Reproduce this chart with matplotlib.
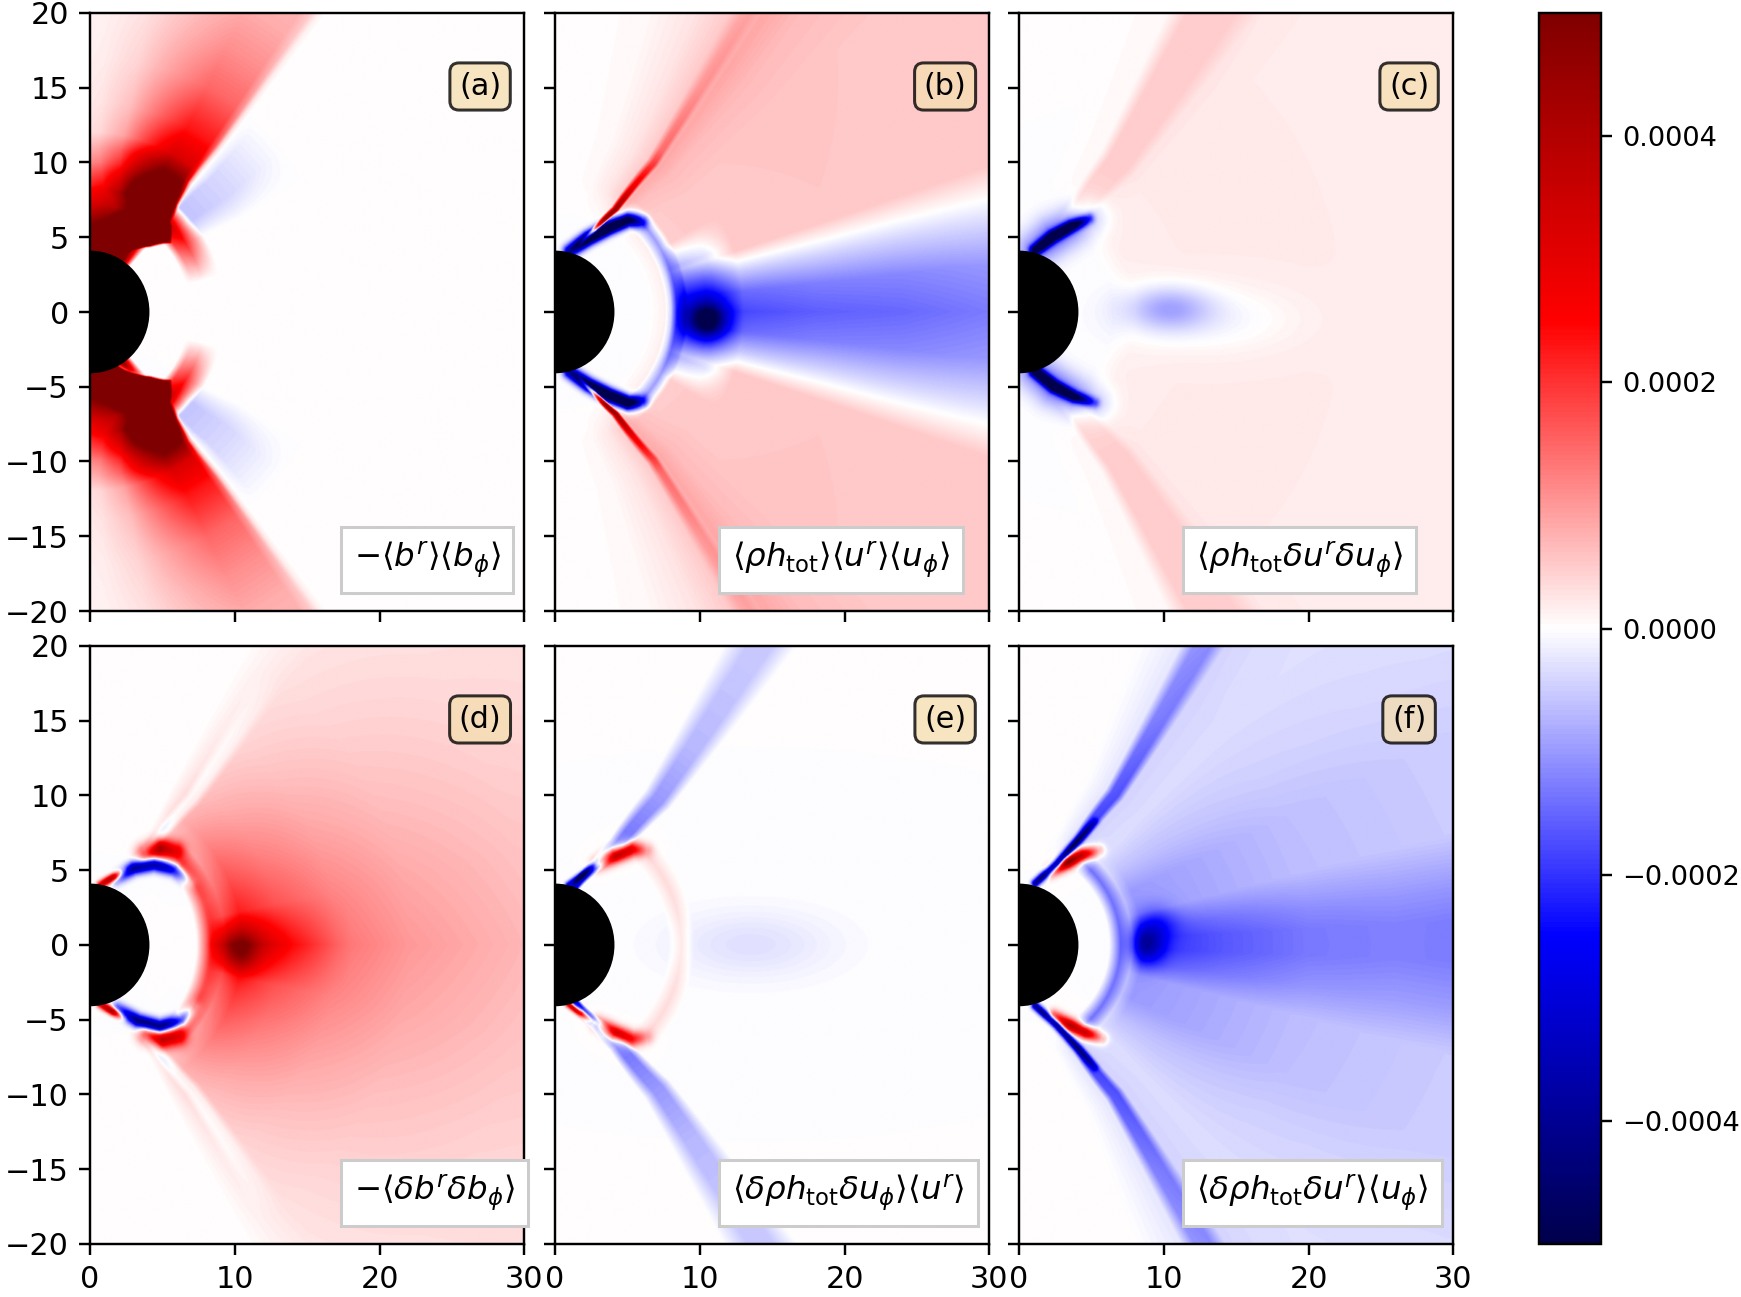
import numpy as np
import matplotlib
matplotlib.use("Agg")
import matplotlib.pyplot as plt
from matplotlib.patches import Circle

# values are in units of 1e-4
SCALE = 1e-4
VLIM = 5e-4
HOLE_R = 4.0

PANEL_TAGS = ["(a)", "(b)", "(c)", "(d)", "(e)", "(f)"]
PANEL_NAMES = [
    r"$-\langle b^r\rangle\langle b_\phi\rangle$",
    r"$\langle\rho h_{\rm tot}\rangle\langle u^r\rangle\langle u_\phi\rangle$",
    r"$\langle\rho h_{\rm tot}\delta u^r\delta u_\phi\rangle$",
    r"$-\langle\delta b^r\delta b_\phi\rangle$",
    r"$\langle\delta\rho h_{\rm tot}\delta u_\phi\rangle\langle u^r\rangle$",
    r"$\langle\delta\rho h_{\rm tot}\delta u^r\rangle\langle u_\phi\rangle$",
]
X_TICKS = [0, 10, 20, 30]
Y_TICKS = [-20, -15, -10, -5, 0, 5, 10, 15, 20]
CBAR_TICKS = [-4e-4, -2e-4, 0, 2e-4, 4e-4]

# funnel wall: polar angle (deg from the pole) against radius
WALL_R = [4, 6, 8, 12, 18, 25, 40]
WALL_DEG = [20, 29, 34, 37, 36.5, 36, 35.5]

# ---- panel (a)
A_EDGE_R = [4, 4.85, 5.3, 6.0, 7.2, 7.7, 8.2, 9.5, 11, 14, 20, 40]
A_EDGE_DEG = [25, 32, 36, 42, 48.5, 45, 40.5, 38.5, 37, 37.5, 37, 36.5]
A_SHEATH_R = [4, 7, 9, 10.5, 12, 14, 17, 20, 23, 30, 40]
A_SHEATH_AMP = [10, 10, 7.5, 5.0, 3.2, 2.3, 1.5, 1.1, 0.8, 0.55, 0.35]
A_SHEATH_V = [-45, -40, -34, -26, -18, -9, -3, -1, 0.5, 1.5, 2.5]
A_SHEATH_W = [0.05, 0.08, 0.12, 0.28, 0.62, 1, 1, 1, 0.7, 0.2, 0]
A_CAP_R = [4, 5.5, 7, 8.5, 10, 12]
A_CAP_AMP = [5, 4.5, 3, 1.5, 0.6, 0]
A_CAP_LAT = [-90, -56, -48, 48, 56, 90]
A_CAP_W = [1, 1, 0, 0, 1, 1]
A_RING_R = [6.8, 7.3, 8.0, 8.7, 9.3]
A_RING_AMP = [0, 3, 4, 2, 0]
A_RING_LAT = [-56, -50, -35, -15, 15, 35, 50, 56]
A_RING_W = [0, 1, 0.55, 0, 0, 0.55, 1, 0]
A_WISP_R = [8, 9, 13, 17]
A_WISP_AMP = [0, -0.6, -0.35, 0]
A_WISP_U = [3, 6, 14, 22]
A_WISP_W = [0, 1, 1, 0]
A_STRIP_X = [1.8, 3.1, 4.5]
A_STRIP_Z = [-3.7, -4.55, -5.1]
A_STRIP_AMP = [-4, -7, -3]

# ---- panel (b)
B_BG_R = [6.5, 7.5, 9, 12, 20, 30, 40]
B_BG_AMP = [0, 0.15, 0.55, 0.6, 0.62, 0.6, 0.55]
B_BG_U = [-30, -18, -10, -3, 0, 4, 12, 60]
B_BG_W = [0, 0.12, 0.45, 1.0, 1.4, 1.1, 0.9, 0.85]
B_LINE_R = [4.5, 5.5, 7, 10, 13, 18, 25]
B_LINE_AMP = [0, 4, 5, 2.2, 0.8, 0.4, 0.2]
B_LINE_U = [-5, -3.2, -2, -0.8]
B_LINE_W = [0, 1, 1, 0]
B_CRES_X = [1.0, 2.3, 3.7, 5.0, 6.0]
B_CRES_Z = [4.05, 4.9, 5.6, 6.1, 6.0]
B_CRES_AMP_N = [-4, -7, -7, -6, -2]
B_CRES_AMP_S = [-4, -6, -7, -7, -2]
B_RING_R = [7.6, 8.4, 9.2]
B_RING_AMP = [0, -1.3, 0]
B_RING_LAT = [-55, -45, 45, 55]
B_RING_W = [0, 1, 1, 0]
B_WEDGE_R = [8, 9, 10.5, 13, 18, 24, 30, 40]
B_WEDGE_AMP = [0, -2.0, -2.6, -2.3, -2.1, -2.0, -1.8, -1.6]
B_WEDGE_LAT = [-18, -12, -6, 0, 6, 12, 18]
B_WEDGE_W = [0, 0.45, 0.85, 1, 0.85, 0.45, 0]
B_NEAR_R = [8, 9, 11, 13]
B_NEAR_AMP = [0, -1.2, -0.8, 0]
B_NEAR_LAT = [-30, -20, 20, 30]
B_NEAR_W = [0, 1, 1, 0]
B_BLOB = [10.5, -0.6, 0.9, 0.8, -3.0]

# ---- panel (c)
C_BG_R = [6.5, 8, 12, 20, 40]
C_BG_AMP = [0, 0.2, 0.25, 0.25, 0.2]
C_BG_U = [-20, -9, -6, 1, 4, 10, 60]
C_BG_W = [0, 0.3, 2.0, 2.0, 1.0, 0.8, 0.8]
C_CRES_X = [1.1, 2.3, 3.6, 4.8]
C_CRES_Z_N = [4.1, 5.0, 5.7, 6.2]
C_CRES_X_S = [1.1, 2.4, 3.8, 5.2]
C_CRES_Z_S = [-4.0, -5.0, -5.7, -6.1]
C_CRES_AMP_N = [-5, -7, -6, -2]
C_CRES_AMP_S = [-6, -7, -5, -1.5]
C_HALO_AMP = [-1.2, -1.5, -1.2, -0.6]
C_BLOB = [10.3, 0.2, 2.0, 1.0, -0.9]
C_FAINT = [13.0, -0.5, 4.0, 1.5, -0.3]

# ---- panel (d)
D_WEDGE_R = [7.3, 8.5, 10.5, 13, 17, 22, 30, 40]
D_WEDGE_AMP = [0, 1.6, 2.6, 2.0, 1.4, 1.0, 0.7, 0.5]
D_WEDGE_LAT = [-62, -52, -40, -25, -12, 0, 12, 25, 40, 52, 62]
D_WEDGE_W = [0, 0.3, 0.45, 0.65, 0.85, 1, 0.85, 0.65, 0.45, 0.3, 0]
D_CORE_R = [8, 9.5, 11, 14, 18]
D_CORE_AMP = [0, 1.5, 1.5, 0.6, 0]
D_CORE_LAT = [-12, 0, 12]
D_CORE_W = [0, 1, 0]
D_ARM_R = [7.4, 8.3, 9.3]
D_ARM_AMP = [0, 1.5, 0]
D_ARM_LAT = [-50, -40, -20, 20, 40, 50]
D_ARM_W = [0, 1, 0.5, 0.5, 1, 0]
D_BLOB = [10.3, -0.5, 0.8, 0.9, 1.5]
D_SPOT_X_N = [3.8, 4.8, 5.9]
D_SPOT_Z_N = [6.1, 6.4, 6.3]
D_SPOT_X_S = [3.9, 5.0, 6.1]
D_SPOT_Z_S = [-6.0, -6.3, -6.2]
D_SPOT_AMP_N = [2, 4, 2]
D_SPOT_AMP_S = [2, 3.5, 2]
D_ARC_X_N = [1.8, 3.0, 4.4, 5.8, 6.9]
D_ARC_Z_N = [4.4, 5.1, 5.35, 5.0, 4.2]
D_ARC_X_S = [1.9, 3.3, 4.8, 6.3, 7.2]
D_ARC_Z_S = [-4.3, -5.1, -5.5, -5.1, -4.2]
D_ARC_AMP_N = [-1.5, -4, -4, -3, -0.8]
D_ARC_AMP_S = [-2, -4.5, -5, -3.5, -0.8]
D_WALL_R = [6, 8, 14, 22]
D_WALL_AMP = [0, -0.5, -0.35, 0]
D_WALL_U = [-4, -2, 0, 2]
D_WALL_W = [0, 1, 1, 0]
D_NEAR_X = [0.7, 1.6, 2.3]
D_NEAR_Z = [4.0, 4.5, 4.9]
D_NEAR_AMP = [3, 5, 1]

# ---- panel (e)
E_WALL_R = [4, 5, 7, 9, 12, 16, 22, 30, 40]
E_WALL_AMP = [-3, -2.5, -1.0, -1.3, -1.0, -0.7, -0.55, -0.5, -0.45]
E_WALL_U = [-6, -2.5, 1, 4]
E_WALL_W = [0, 1, 1, 0]
E_SPOT_X = [3.0, 4.1, 5.3, 6.3]
E_SPOT_Z_N = [5.4, 5.95, 6.35, 6.3]
E_SPOT_Z_S = [-5.3, -5.9, -6.3, -6.2]
E_SPOT_AMP_N = [1.5, 4, 3, 0.8]
E_SPOT_AMP_S = [1.5, 3.5, 2.5, 0.8]
E_RING_R = [7.8, 8.7, 9.6]
E_RING_AMP = [0, 0.35, 0]
E_RING_LAT = [-52, -40, 40, 52]
E_RING_W = [0, 1, 1, 0]
E_BLOB = [13.5, 0.0, 4.0, 1.6, -0.3]
E_NEAR_X = [0.9, 1.8, 2.6]
E_NEAR_Z = [4.0, 4.6, 5.2]
E_NEAR_AMP_N = [-3, -4, -1]
E_NEAR_AMP_S = [3, 5, 1]

# ---- panel (f)
F_BG_R = [6.5, 8, 12, 20, 30, 40]
F_BG_AMP = [0, -0.45, -0.45, -0.45, -0.4, -0.35]
F_BG_U = [-14, -6, -2, 4, 20, 60]
F_BG_W = [0, 0.6, 1.0, 0.8, 0.6, 0.7]
F_WALL_R = [7, 9, 12, 18, 25, 35]
F_WALL_AMP = [0, -1.5, -1.3, -0.9, -0.7, -0.6]
F_WALL_U = [-7, -5, -2.5, -0.5]
F_WALL_W = [0, 1, 1, 0]
F_LINE_X = [1.1, 2.6, 4.0, 5.2]
F_LINE_Z = [4.1, 5.4, 6.9, 8.2]
F_LINE_AMP_N = [-4, -6, -4, -1.5]
F_LINE_AMP_S = [-4, -5, -3.5, -1.5]
F_RED_X_N = [2.2, 3.3, 4.4, 5.5]
F_RED_Z_N = [4.9, 5.5, 6.0, 6.3]
F_RED_X_S = [2.4, 3.5, 4.6, 5.7]
F_RED_Z_S = [-4.8, -5.4, -5.9, -6.3]
F_RED_AMP_N = [2, 5, 4, 1]
F_RED_AMP_S = [2, 4, 4, 1]
F_RING_R = [6.2, 7.0, 7.8]
F_RING_AMP = [0, -1.3, 0]
F_RING_LAT = [-58, -45, 45, 58]
F_RING_W = [0, 1, 1, 0]
F_WEDGE_R = [7.5, 8.5, 10, 14, 20, 26, 30, 40]
F_WEDGE_AMP = [0, -0.8, -1.0, -0.8, -0.65, -0.65, -0.75, -0.75]
F_WEDGE_LAT = [-14, -8, -2, 3, 7, 14]
F_WEDGE_W = [0, 0.6, 1, 1, 0.7, 0]
F_BROAD_R = [7, 8.5, 12, 20, 30, 40]
F_BROAD_AMP = [0, -0.7, -0.6, -0.35, -0.25, -0.2]
F_BROAD_LAT = [-45, -25, 25, 45]
F_BROAD_W = [0, 1, 1, 0]
F_BLOB1 = [8.8, 0.0, 0.8, 0.9, -2.0]
F_BLOB2 = [9.5, 1.5, 1.0, 0.8, -0.8]

# ---- grid in the meridional plane
x = np.linspace(0, 30, 601)
z = np.linspace(-20, 20, 801)
X, Z = np.meshgrid(x, z)
R = np.hypot(X, Z)
THETA = np.degrees(np.arctan2(X, Z))
LAT = 90.0 - THETA
POLE = np.minimum(THETA, 180.0 - THETA)
U = POLE - np.interp(R, WALL_R, WALL_DEG)
V_A = POLE - np.interp(R, A_EDGE_R, A_EDGE_DEG)


def shell(r_nodes, r_amp, coord, c_nodes, c_w):
    c = {"u": U, "lat": LAT, "va": V_A}[coord]
    return np.interp(R, r_nodes, r_amp) * np.interp(c, c_nodes, c_w)


def ridge(px, pz, amps, width):
    best_d = np.full(X.shape, np.inf)
    best_a = np.zeros(X.shape)
    for i in range(len(px) - 1):
        x0, z0 = px[i], pz[i]
        dx, dz = px[i + 1] - x0, pz[i + 1] - z0
        s = np.clip(((X - x0) * dx + (Z - z0) * dz) / (dx * dx + dz * dz), 0, 1)
        d = np.hypot(X - (x0 + s * dx), Z - (z0 + s * dz))
        a = amps[i] + s * (amps[i + 1] - amps[i])
        m = d < best_d
        best_d[m] = d[m]
        best_a[m] = a[m]
    return best_a * np.exp(-0.5 * (best_d / width) ** 2)


def blob(p):
    x0, z0, sx, sz, amp = p
    return amp * np.exp(-0.5 * (((X - x0) / sx) ** 2 + ((Z - z0) / sz) ** 2))


def neg(v):
    return [-t for t in v]


fields = []
fields.append(
    shell(A_SHEATH_R, A_SHEATH_AMP, "va", A_SHEATH_V, A_SHEATH_W)
    + shell(A_CAP_R, A_CAP_AMP, "lat", A_CAP_LAT, A_CAP_W)
    + shell(A_RING_R, A_RING_AMP, "lat", A_RING_LAT, A_RING_W)
    + shell(A_WISP_R, A_WISP_AMP, "u", A_WISP_U, A_WISP_W)
    + ridge(A_STRIP_X, A_STRIP_Z, A_STRIP_AMP, 0.2)
)
fields.append(
    shell(B_BG_R, B_BG_AMP, "u", B_BG_U, B_BG_W)
    + shell(B_LINE_R, B_LINE_AMP, "u", B_LINE_U, B_LINE_W)
    + ridge(B_CRES_X, B_CRES_Z, B_CRES_AMP_N, 0.3)
    + ridge(B_CRES_X, neg(B_CRES_Z), B_CRES_AMP_S, 0.3)
    + shell(B_RING_R, B_RING_AMP, "lat", B_RING_LAT, B_RING_W)
    + shell(B_WEDGE_R, B_WEDGE_AMP, "lat", B_WEDGE_LAT, B_WEDGE_W)
    + shell(B_NEAR_R, B_NEAR_AMP, "lat", B_NEAR_LAT, B_NEAR_W)
    + blob(B_BLOB)
)
fields.append(
    shell(C_BG_R, C_BG_AMP, "u", C_BG_U, C_BG_W)
    + ridge(C_CRES_X, C_CRES_Z_N, C_CRES_AMP_N, 0.25)
    + ridge(C_CRES_X, C_CRES_Z_N, C_HALO_AMP, 0.9)
    + ridge(C_CRES_X_S, C_CRES_Z_S, C_CRES_AMP_S, 0.25)
    + ridge(C_CRES_X_S, C_CRES_Z_S, C_HALO_AMP, 0.9)
    + blob(C_BLOB) + blob(C_FAINT)
)
fields.append(
    shell(D_WEDGE_R, D_WEDGE_AMP, "lat", D_WEDGE_LAT, D_WEDGE_W)
    + shell(D_CORE_R, D_CORE_AMP, "lat", D_CORE_LAT, D_CORE_W)
    + shell(D_ARM_R, D_ARM_AMP, "lat", D_ARM_LAT, D_ARM_W)
    + blob(D_BLOB)
    + ridge(D_SPOT_X_N, D_SPOT_Z_N, D_SPOT_AMP_N, 0.45)
    + ridge(D_SPOT_X_S, D_SPOT_Z_S, D_SPOT_AMP_S, 0.45)
    + ridge(D_ARC_X_N, D_ARC_Z_N, D_ARC_AMP_N, 0.3)
    + ridge(D_ARC_X_S, D_ARC_Z_S, D_ARC_AMP_S, 0.3)
    + shell(D_WALL_R, D_WALL_AMP, "u", D_WALL_U, D_WALL_W)
    + ridge(D_NEAR_X, D_NEAR_Z, D_NEAR_AMP, 0.18)
    + ridge(D_NEAR_X, neg(D_NEAR_Z), D_NEAR_AMP, 0.18)
)
fields.append(
    shell(E_WALL_R, E_WALL_AMP, "u", E_WALL_U, E_WALL_W)
    + ridge(E_SPOT_X, E_SPOT_Z_N, E_SPOT_AMP_N, 0.35)
    + ridge(E_SPOT_X, E_SPOT_Z_S, E_SPOT_AMP_S, 0.35)
    + shell(E_RING_R, E_RING_AMP, "lat", E_RING_LAT, E_RING_W)
    + blob(E_BLOB)
    + ridge(E_NEAR_X, E_NEAR_Z, E_NEAR_AMP_N, 0.15)
    + ridge(E_NEAR_X, neg(E_NEAR_Z), E_NEAR_AMP_S, 0.15)
)
fields.append(
    shell(F_BG_R, F_BG_AMP, "u", F_BG_U, F_BG_W)
    + shell(F_WALL_R, F_WALL_AMP, "u", F_WALL_U, F_WALL_W)
    + ridge(F_LINE_X, F_LINE_Z, F_LINE_AMP_N, 0.18)
    + ridge(F_LINE_X, neg(F_LINE_Z), F_LINE_AMP_S, 0.18)
    + ridge(F_RED_X_N, F_RED_Z_N, F_RED_AMP_N, 0.3)
    + ridge(F_RED_X_S, F_RED_Z_S, F_RED_AMP_S, 0.3)
    + shell(F_RING_R, F_RING_AMP, "lat", F_RING_LAT, F_RING_W)
    + shell(F_WEDGE_R, F_WEDGE_AMP, "lat", F_WEDGE_LAT, F_WEDGE_W)
    + shell(F_BROAD_R, F_BROAD_AMP, "lat", F_BROAD_LAT, F_BROAD_W)
    + blob(F_BLOB1) + blob(F_BLOB2)
)

# ---- figure
fig = plt.figure(figsize=(8, 5.96), dpi=217.625)
col_left = [0.0517, 0.3188, 0.5853]
row_bottom = [0.5289, 0.0409]
ax_w, ax_h = 0.2495, 0.4611
tag_box = dict(boxstyle="round", facecolor="wheat", alpha=0.8)
name_box = dict(boxstyle="square,pad=0.4", facecolor="white", edgecolor="0.8")
name_x = [0.607, 0.408, 0.408]

for k in range(6):
    row, col = divmod(k, 3)
    ax = fig.add_axes([col_left[col], row_bottom[row], ax_w, ax_h])
    im = ax.imshow(fields[k] * SCALE, extent=(0, 30, -20, 20), origin="lower",
                   aspect="auto", cmap="seismic", vmin=-VLIM, vmax=VLIM,
                   interpolation="bilinear")
    ax.add_patch(Circle((0, 0), HOLE_R, color="k", zorder=3))
    ax.set_xlim(0, 30)
    ax.set_ylim(-20, 20)
    ax.set_xticks(X_TICKS)
    ax.set_yticks(Y_TICKS)
    if row == 0:
        ax.set_xticklabels([])
    if col > 0:
        ax.set_yticklabels([])
    ax.text(0.898, 0.877, PANEL_TAGS[k], transform=ax.transAxes,
            ha="center", va="center", bbox=tag_box, zorder=5)
    ax.text(name_x[col], 0.085, PANEL_NAMES[k], transform=ax.transAxes,
            ha="left", va="center", fontsize=10.75, bbox=name_box, zorder=5)

cax = fig.add_axes([0.884, 0.0409, 0.0356, 0.949])
cb = fig.colorbar(im, cax=cax, ticks=CBAR_TICKS)
cb.ax.tick_params(labelsize=9)

fig.savefig("out.png", dpi=217.625)
